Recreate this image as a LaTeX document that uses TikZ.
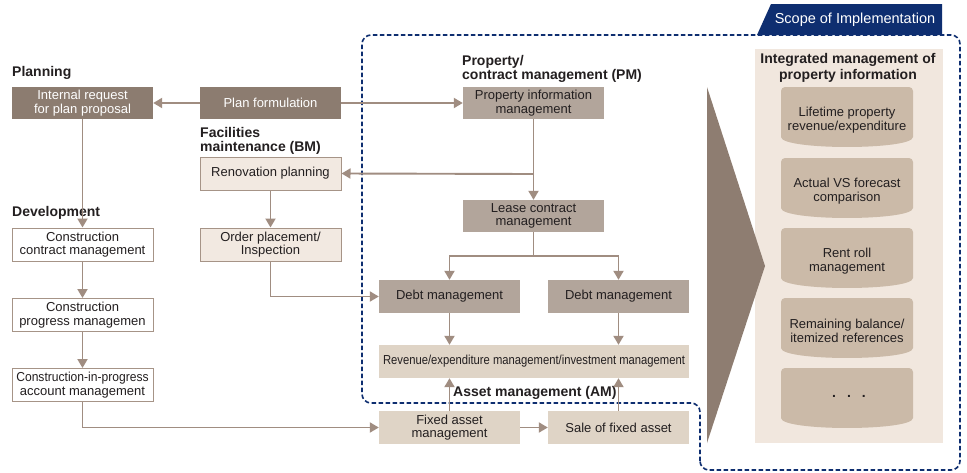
\documentclass[tikz,border=0pt]{standalone}
\usepackage{fontspec}
\setmainfont{Liberation Sans}
\usetikzlibrary{arrows.meta}
\definecolor{darkbox}{RGB}{140,124,112}
\definecolor{medbox}{RGB}{178,165,155}
\definecolor{lightbox}{RGB}{223,212,198}
\definecolor{palebox}{RGB}{242,233,225}
\definecolor{boxline}{RGB}{166,148,135}
\definecolor{arrowc}{RGB}{160,141,129}
\definecolor{navyc}{RGB}{14,46,112}
\definecolor{panelc}{RGB}{241,231,222}
\definecolor{cylc}{RGB}{203,186,168}
\definecolor{tric}{RGB}{142,125,113}
\definecolor{textc}{RGB}{35,31,32}
\tikzset{
  base/.style={inner sep=0pt, align=center, font=\fontsize{13}{13.5}\selectfont, text=textc, minimum width=141pt, minimum height=33pt},
  darkb/.style={base, fill=darkbox, text=white},
  medb/.style={base, fill=medbox},
  lightb/.style={base, fill=lightbox},
  paleb/.style={base, fill=palebox, draw=boxline, line width=1pt},
  whiteb/.style={base, fill=white, draw=boxline, line width=1pt},
  conn/.style={draw=arrowc, line width=1.9pt, -{Triangle[length=9pt,width=10pt]}},
  plainline/.style={draw=arrowc, line width=1.9pt},
  head/.style={font=\bfseries\fontsize{14}{13.5}\selectfont, text=textc, inner sep=0pt, anchor=west, align=left},
  cyltext/.style={inner sep=0pt, align=center, font=\fontsize{13}{13.5}\selectfont, text=textc},
  cylshape/.style={fill=cylc},
  scopeline/.style={draw=navyc, line width=1.6pt, dash pattern=on 4.5pt off 2.5pt, rounded corners=9pt},
}
\begin{document}
\begin{tikzpicture}[x=1pt,y=-1pt]
\useasboundingbox (0,0) rectangle (967,472);
\fill[white] (0,0) rectangle (967,472);

% right panel
\fill[panelc] (755,49) rectangle (943,443);
\node[font=\bfseries\fontsize{14}{15.5}\selectfont, text=textc, inner sep=0pt, align=center] (ptitle) at (848,68) {Integrated management of\\property information};

% cylinders
\foreach \yt/\nm in {87/c1,158/c2,228/c3,298/c4,368/c5}{
  \fill[cylshape] [rounded corners=4pt] (781,\yt+50) -- (781,\yt) -- (913,\yt) [sharp corners] -- (913,\yt+50)
     .. controls (913,\yt+63.3) and (781,\yt+63.3) .. (781,\yt+50) -- cycle;
}
\node[cyltext] (cy1) at (847,120) {Lifetime property\\revenue/expenditure};
\node[cyltext] (cy2) at (847,191) {Actual VS forecast\\comparison};
\node[cyltext] (cy3) at (847,261) {Rent roll\\management};
\node[cyltext] (cy4) at (847,331) {Remaining balance/\\itemized references};
\node[cyltext, font=\bfseries\fontsize{14}{14}\selectfont] (cy5) at (849,396) {.\hspace{11pt}.\hspace{11pt}.};

% big chevron triangle
\fill[tric] (707,87) -- (765,266) -- (707,443) -- cycle;

% scope boundary
\draw[scopeline] (700,470) -- (700,403) -- (362,403) -- (362,35) -- (960,35) -- (960,470) -- cycle;
\fill[navyc] (757,35) -- (771,4) -- (942,4) -- (942,35) -- cycle;
\node[text=white, font=\fontsize{14.5}{15}\selectfont, inner sep=0pt] (scope) at (855,20) {Scope of Implementation};

% headings
\node[head] (hplan) at (12,73) {Planning};
\node[head] (hdev) at (12,213) {Development};
\node[head] (hbm) at (200,141) {Facilities\\maintenance (BM)};
\node[head] (hpm) at (462,69) {Property/\\contract management (PM)};
\node[head] (ham) at (453,393) {Asset management (AM)};

% boxes
\node[darkb, minimum height=32pt] (ir) at (82.5,103) {Internal request\\for plan proposal};
\node[darkb, minimum height=32pt] (pf) at (270.5,103) {Plan formulation};
\node[medb, minimum height=32pt] (pim) at (533.5,103) {Property information\\management};
\node[paleb] (ren) at (270.5,173.5) {Renovation planning};
\node[paleb] (ord) at (270.5,244.5) {Order placement/\\Inspection};
\node[whiteb] (ccm) at (82.5,244.5) {Construction\\contract management};
\node[whiteb] (cpm) at (82.5,315) {Construction\\progress managemen};
\node[whiteb] (cip) at (82.5,385) {\scalebox{0.93}[1]{Construction-in-progress}\\account management};
\node[medb, minimum height=32pt] (lcm) at (533.5,216) {Lease contract\\management};
\node[medb] (d1) at (449.5,296.5) {Debt management};
\node[medb] (d2) at (618.5,296.5) {Debt management};
\node[lightb, minimum width=310pt] (rev) at (534,361.5) {\scalebox{0.865}[1]{Revenue/expenditure management/investment management}};
\node[lightb] (fam) at (449.5,427.5) {Fixed asset\\management};
\node[lightb] (sfa) at (618.5,427.5) {Sale of fixed asset};

% connectors
\draw[conn] (pf.west) -- (ir.east);
\draw[conn] (pf.east) -- (pim.west);
\draw[conn] (pim.south) -- (lcm.north);
\coordinate (brA) at (533.5,174);
\draw[conn] (brA) -- (ren.east);
\draw[conn] (ren.south) -- (ord.north);
\draw[conn] (ir.south) -- (ccm.north);
\draw[conn] (ccm.south) -- (cpm.north);
\draw[conn] (cpm.south) -- (cip.north);
\draw[conn] (cip.south) |- (fam.west);
\draw[conn] (ord.south) |- (d1.west);
\coordinate (brB) at (533.5,256);
\draw[plainline] (lcm.south) -- (brB);
\draw[conn] (brB) -| (d1.north);
\draw[conn] (brB) -| (d2.north);
\draw[conn] (d1.south) -- (d1.south |- rev.north);
\draw[conn] (d2.south) -- (d2.south |- rev.north);
\draw[conn] (fam.north) -- (fam.north |- rev.south);
\draw[conn] (sfa.north) -- (sfa.north |- rev.south);
\draw[conn] (fam.east) -- (sfa.west);
\end{tikzpicture}
\end{document}
